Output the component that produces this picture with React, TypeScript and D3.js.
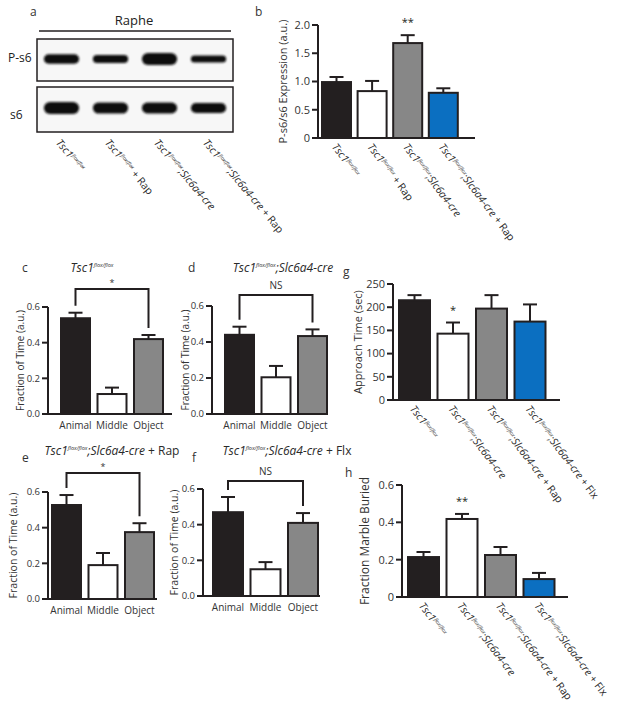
import React from "react";
import * as d3 from "d3";

const FONT = "'Open Sans', 'Liberation Sans', Arial, sans-serif";
const INK = "#231f20";

// ---------- data ----------
const blotLanes = ["", " + Rap", ";Slc6a4-cre", ";Slc6a4-cre + Rap"];
const pS6Bands = [0.72, 0.58, 1.0, 0.45];
const s6Bands = [1.0, 0.9, 0.88, 0.8];

const bGroups = ["", " + Rap", ";Slc6a4-cre", ";Slc6a4-cre + Rap"];
const bValues = [0.99, 0.83, 1.68, 0.8];
const bErrors = [0.09, 0.18, 0.14, 0.08];
const bSig = ["", "", "**", ""];
const bTicks = [0, 0.5, 1, 1.5, 2];
const bTickLabels = ["0", "0.5", "1.0", "1.5", "2.0"];

const zones = ["Animal", "Middle", "Object"];
const fracTicks = [0, 0.2, 0.4, 0.6];
const fracTickLabels = ["0.0", "0.2", "0.4", "0.6"];

const cValues = [0.537, 0.112, 0.42];
const cErrors = [0.031, 0.036, 0.023];
const cSig = "*";

const dValues = [0.44, 0.204, 0.433];
const dErrors = [0.045, 0.063, 0.037];
const dSig = "NS";

const eValues = [0.527, 0.19, 0.375];
const eErrors = [0.056, 0.068, 0.05];
const eSig = "*";

const fValues = [0.47, 0.15, 0.41];
const fErrors = [0.085, 0.04, 0.055];
const fSig = "NS";

const ghGroups = ["", ";Slc6a4-cre", ";Slc6a4-cre + Rap", ";Slc6a4-cre + Flx"];
const gValues = [215, 143, 197, 169];
const gErrors = [11, 24, 29, 37];
const gSig = ["", "*", "", ""];
const gTicks = [0, 50, 100, 150, 200, 250];
const gTickLabels = ["0", "50", "100", "150", "200", "250"];

const hValues = [0.214, 0.418, 0.225, 0.096];
const hErrors = [0.027, 0.027, 0.043, 0.033];
const hSig = ["", "**", "", ""];
const hTicks = [0, 0.2, 0.4, 0.6];
const hTickLabels = ["0", "0.2", "0.4", "0.6"];

const fourColors = [INK, "#ffffff", "#878787", "#0b6fc1"];
const threeColors = [INK, "#ffffff", "#878787"];

// ---------- helpers ----------
function Genotype({ suffix, size, supSize, anchor = "start", x = 0, y = 0, transform }: any) {
  const hasCre = suffix.startsWith(";Slc6a4-cre");
  const rest = hasCre ? suffix.slice(";Slc6a4-cre".length) : suffix;
  const up = size * 0.38;
  return (
    <text x={x} y={y} transform={transform} fontFamily={FONT} fontSize={size} fill="#2a2a2a" textAnchor={anchor}>
      <tspan fontStyle="italic">Tsc1</tspan>
      <tspan fontStyle="italic" fontSize={supSize} dy={-up}>flox/flox</tspan>
      {hasCre ? <tspan fontStyle="italic" dy={up}>;Slc6a4-cre</tspan> : null}
      {rest ? <tspan dy={hasCre ? 0 : up}>{rest}</tspan> : null}
    </text>
  );
}

function makeBand(cats: string[], firstLeft: number, step: number, bw: number) {
  const p = 1 - bw / step;
  const r0 = firstLeft - (step * p) / 2;
  return d3.scaleBand<string>().domain(cats).range([r0, r0 + cats.length * step]).paddingInner(p).paddingOuter(p / 2);
}

function BarPanel(props: any) {
  const { values, errors, colors, L, ticks, tickLabels, yLabel, yLabelX, yLabelSize, sig, groups, cats, bracket, tickSize = 11 } = props;
  const keys = values.map((_: number, i: number) => String(i));
  const x = makeBand(keys, L.firstLeft, L.step, L.bw);
  const y = d3.scaleLinear().domain([0, L.max]).range([L.y0, L.yTop]);
  const bw = x.bandwidth();
  const cx = (i: number) => (x(String(i)) as number) + bw / 2;
  return (
    <g>
      {values.map((v: number, i: number) => (
        <g key={"e" + i}>
          <line x1={cx(i)} x2={cx(i)} y1={y(v)} y2={y(v + errors[i])} stroke={INK} strokeWidth={2} />
          <line x1={cx(i) - 7} x2={cx(i) + 7} y1={y(v + errors[i])} y2={y(v + errors[i])} stroke={INK} strokeWidth={2} />
        </g>
      ))}
      {values.map((v: number, i: number) => (
        <rect key={"b" + i} x={x(String(i))} y={y(v)} width={bw} height={L.y0 - y(v)} fill={colors[i]} stroke={INK} strokeWidth={2} />
      ))}
      <line x1={L.axisX} x2={L.axisX} y1={L.y0 + 1} y2={y(L.max)} stroke={INK} strokeWidth={2} />
      <line x1={L.axisX - 1} x2={L.axisEnd} y1={L.y0} y2={L.y0} stroke={INK} strokeWidth={2} />
      {ticks.map((t: number, i: number) => (
        <g key={"t" + i}>
          <line x1={L.axisX - 6} x2={L.axisX} y1={y(t)} y2={y(t)} stroke={INK} strokeWidth={2} />
          <text x={L.axisX - 8} y={y(t)} dy="0.35em" textAnchor="end" fontFamily={FONT} fontSize={tickSize} fill="#333">{tickLabels[i]}</text>
        </g>
      ))}
      <text transform={`translate(${yLabelX},${(L.y0 + y(L.max)) / 2}) rotate(-90)`} textAnchor="middle" dy="0.35em" fontFamily={FONT} fontSize={yLabelSize} fill="#333">{yLabel}</text>
      {sig ? sig.map((s: string, i: number) => s ? (
        <text key={"s" + i} x={cx(i)} y={y(values[i] + errors[i]) - 9} textAnchor="middle" fontFamily={FONT} fontSize={11} fill={INK}>{s}</text>
      ) : null) : null}
      {cats ? cats.map((c: string, i: number) => (
        <text key={"c" + i} x={cx(i)} y={L.y0 + 15} textAnchor="middle" fontFamily={FONT} fontSize={10} fill="#333">{c}</text>
      )) : null}
      {groups ? groups.map((g: string, i: number) => (
        <Genotype key={"g" + i} suffix={g} size={10.5} supSize={5} transform={`translate(${cx(i) - 5},${L.y0 + 9}) rotate(53)`} />
      )) : null}
      {bracket ? (() => {
        const l = cx(0), r = cx(values.length - 1);
        const yl = y(values[0] + errors[0]) - 7;
        const yr = y(values[values.length - 1] + errors[values.length - 1]) - 7;
        const star = bracket.label === "*";
        return (
          <g>
            <path d={`M${l},${yl}V${bracket.top}H${r}V${yr}`} fill="none" stroke={INK} strokeWidth={2} />
            <text x={(l + r) / 2} y={bracket.top - (star ? 3 : 6)} textAnchor="middle" fontFamily={FONT} fontSize={star ? 9 : 10} fill="#333">{bracket.label}</text>
          </g>
        );
      })() : null}
    </g>
  );
}

function Blot() {
  const lanes = d3.scaleBand<string>().domain(blotLanes.map((_, i) => String(i))).range([37, 233]).paddingInner(0.28).paddingOuter(0.14);
  const bw = lanes.bandwidth();
  const thick = d3.scaleLinear().domain([0, 1]).range([3, 12]);
  return (
    <g>
      <defs>
        <filter id="blur" x="-20%" y="-80%" width="140%" height="260%">
          <feGaussianBlur stdDeviation="1.3" />
        </filter>
      </defs>
      <text x={30} y={16} fontFamily={FONT} fontSize={12} fill="#333">a</text>
      <text x={134} y={25} textAnchor="middle" fontFamily={FONT} fontSize={13} fill="#222">Raphe</text>
      <line x1={39} x2={231} y1={31} y2={31} stroke={INK} strokeWidth={1.3} />
      <rect x={37} y={39} width={196} height={42} fill="#f7f7f7" stroke={INK} strokeWidth={1.5} />
      <rect x={37} y={87} width={196} height={45} fill="#f7f7f7" stroke={INK} strokeWidth={1.5} />
      <text x={8} y={62} fontFamily={FONT} fontSize={12} fill="#222">P-s6</text>
      <text x={10} y={119} fontFamily={FONT} fontSize={12} fill="#222">s6</text>
      {pS6Bands.map((v, i) => (
        <rect key={"p" + i} x={(lanes(String(i)) as number)} y={59 - thick(v) / 2} width={bw} height={thick(v)} rx={thick(v) / 2} fill="#111" filter="url(#blur)" />
      ))}
      {s6Bands.map((v, i) => (
        <rect key={"s" + i} x={(lanes(String(i)) as number)} y={108 - thick(v) / 2} width={bw} height={thick(v)} rx={thick(v) / 2} fill="#111" filter="url(#blur)" />
      ))}
      {blotLanes.map((g, i) => (
        <Genotype key={"l" + i} suffix={g} size={10.5} supSize={5} transform={`translate(${(lanes(String(i)) as number) + bw / 2 - 6},${143}) rotate(50)`} />
      ))}
    </g>
  );
}

export default function App() {
  return (
    <svg width={624} height={714} style={{ position: "absolute", left: 0, top: 0, background: "#fff" }}>
      <rect width={624} height={714} fill="#fff" />
      <Blot />

      <text x={255} y={16} fontFamily={FONT} fontSize={12} fill="#333">b</text>
      <BarPanel values={bValues} errors={bErrors} colors={fourColors} sig={bSig} groups={bGroups}
        L={{ axisX: 318, axisEnd: 475, y0: 138, yTop: 25, max: 2, firstLeft: 322, step: 35.6, bw: 29 }}
        ticks={bTicks} tickLabels={bTickLabels} yLabel="P-s6/s6 Expression (a.u.)" yLabelX={283} yLabelSize={11} />

      <text x={22} y={272} fontFamily={FONT} fontSize={12} fill="#333">c</text>
      <Genotype suffix="" size={12} supSize={5.5} anchor="middle" x={92} y={272} />
      <BarPanel values={cValues} errors={cErrors} colors={threeColors} cats={zones} bracket={{ top: 289, label: cSig }} tickSize={9.5}
        L={{ axisX: 48, axisEnd: 172, y0: 414, yTop: 307, max: 0.6, firstLeft: 61, step: 36.5, bw: 29 }}
        ticks={fracTicks} tickLabels={fracTickLabels} yLabel="Fraction of Time (a.u.)" yLabelX={20} yLabelSize={10} />

      <text x={188} y={272} fontFamily={FONT} fontSize={12} fill="#333">d</text>
      <Genotype suffix=";Slc6a4-cre" size={12} supSize={5.5} anchor="middle" x={283} y={272} />
      <BarPanel values={dValues} errors={dErrors} colors={threeColors} cats={zones} bracket={{ top: 295, label: dSig }} tickSize={9.5}
        L={{ axisX: 212, axisEnd: 328, y0: 414, yTop: 306, max: 0.6, firstLeft: 225, step: 36.5, bw: 29 }}
        ticks={fracTicks} tickLabels={fracTickLabels} yLabel="Fraction of Time (a.u.)" yLabelX={185} yLabelSize={10} />

      <text x={343} y={276} fontFamily={FONT} fontSize={12} fill="#333">g</text>
      <BarPanel values={gValues} errors={gErrors} colors={fourColors} sig={gSig} groups={ghGroups}
        L={{ axisX: 393, axisEnd: 560, y0: 400, yTop: 284, max: 250, firstLeft: 399, step: 38.5, bw: 31 }}
        ticks={gTicks} tickLabels={gTickLabels} yLabel="Approach Time (sec)" yLabelX={358} yLabelSize={11} />

      <text x={22} y={462} fontFamily={FONT} fontSize={12} fill="#333">e</text>
      <Genotype suffix=";Slc6a4-cre + Rap" size={12} supSize={5.5} anchor="middle" x={112} y={455} />
      <BarPanel values={eValues} errors={eErrors} colors={threeColors} cats={zones} bracket={{ top: 473, label: eSig }} tickSize={9.5}
        L={{ axisX: 48, axisEnd: 157, y0: 599, yTop: 492, max: 0.6, firstLeft: 52, step: 36.5, bw: 29 }}
        ticks={fracTicks} tickLabels={fracTickLabels} yLabel="Fraction of Time (a.u.)" yLabelX={13} yLabelSize={10.5} />

      <text x={192} y={462} fontFamily={FONT} fontSize={12} fill="#333">f</text>
      <Genotype suffix=";Slc6a4-cre + Flx" size={12} supSize={5.5} anchor="middle" x={287} y={455} />
      <BarPanel values={fValues} errors={fErrors} colors={threeColors} cats={zones} bracket={{ top: 481, label: fSig }} tickSize={9.5}
        L={{ axisX: 203, axisEnd: 320, y0: 596, yTop: 489, max: 0.6, firstLeft: 213, step: 37.5, bw: 30 }}
        ticks={fracTicks} tickLabels={fracTickLabels} yLabel="Fraction of Time (a.u.)" yLabelX={174} yLabelSize={10.5} />

      <text x={345} y={477} fontFamily={FONT} fontSize={12} fill="#333">h</text>
      <BarPanel values={hValues} errors={hErrors} colors={fourColors} sig={hSig} groups={ghGroups}
        L={{ axisX: 402, axisEnd: 568, y0: 597, yTop: 485, max: 0.6, firstLeft: 408, step: 38.5, bw: 31 }}
        ticks={hTicks} tickLabels={hTickLabels} yLabel="Fraction Marble Buried" yLabelX={365} yLabelSize={12} />
    </svg>
  );
}
